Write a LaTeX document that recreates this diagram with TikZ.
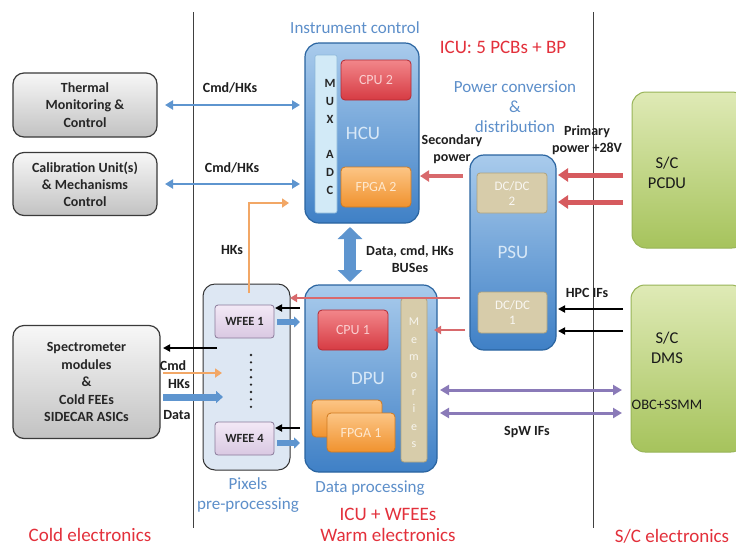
\documentclass[tikz,border=0pt]{standalone}
\usepackage{fontspec}
\setmainfont{Carlito}
\usetikzlibrary{arrows.meta,calc}
\definecolor{blueT}{HTML}{A9CBEC}
\definecolor{blueB}{HTML}{3F80C6}
\definecolor{blueD}{HTML}{2A64A0}
\definecolor{redT}{HTML}{F2868A}
\definecolor{redB}{HTML}{D63B43}
\definecolor{redD}{HTML}{B32A33}
\definecolor{orT}{HTML}{FCC585}
\definecolor{orB}{HTML}{F0922E}
\definecolor{orD}{HTML}{D07A20}
\definecolor{tanF}{HTML}{D7CCAA}
\definecolor{tanD}{HTML}{AFA27E}
\definecolor{muxF}{HTML}{D2EAF7}
\definecolor{muxD}{HTML}{8DB8DA}
\definecolor{pixF}{HTML}{DDE7F3}
\definecolor{wfT}{HTML}{F3E9F6}
\definecolor{wfB}{HTML}{D9C8E2}
\definecolor{wfD}{HTML}{8A7A9A}
\definecolor{grT}{HTML}{F7F7F7}
\definecolor{grB}{HTML}{C2C2C2}
\definecolor{grD}{HTML}{3A3A3A}
\definecolor{gnT}{HTML}{DFEAB6}
\definecolor{gnB}{HTML}{A6C35C}
\definecolor{gnD}{HTML}{98B458}
\definecolor{arBlue}{HTML}{5E95CF}
\definecolor{arRed}{HTML}{D8696C}
\definecolor{arRed2}{HTML}{D65A5E}
\definecolor{arOr}{HTML}{F2A766}
\definecolor{arPur}{HTML}{8A7AB8}
\definecolor{txBlue}{HTML}{5D8FCA}
\definecolor{txRed}{HTML}{E3303B}
\definecolor{inBlue}{HTML}{D8E8F7}
\definecolor{sepC}{HTML}{404040}
\begin{document}
\begin{tikzpicture}[x=1pt,y=-1pt,
  every node/.style={inner sep=0pt, outer sep=0pt},
  bluebox/.style={rounded corners=14pt, top color=blueT, bottom color=blueB, draw=blueD, line width=1.2pt, text=inBlue, font=\fontsize{19}{21}\selectfont},
  redbox/.style={rounded corners=4pt, top color=redT, bottom color=redB, draw=redD, line width=0.8pt, text=redT!40!white, font=\fontsize{14}{16}\selectfont},
  orbox/.style={rounded corners=4pt, top color=orT, bottom color=orB, draw=orD, line width=0.8pt, text=orT!40!white, font=\fontsize{14}{16}\selectfont},
  tanbox/.style={rounded corners=3pt, fill=tanF, draw=tanD, line width=0.8pt, text=white!85!tanF, font=\fontsize{13}{15}\selectfont, align=center},
  graybox/.style={rounded corners=11pt, top color=grT, bottom color=grB, draw=grD, line width=1.2pt, text=black!85, font=\bfseries\fontsize{14}{17.5}\selectfont, align=center},
  greenbox/.style={rounded corners=14pt, top color=gnT, bottom color=gnB, draw=gnD, line width=1pt},
  wfbox/.style={rounded corners=3pt, top color=wfT, bottom color=wfB, draw=wfD, line width=0.8pt, text=black!85, font=\bfseries\fontsize{12.5}{14}\selectfont},
  lbl/.style={text=black!88, font=\bfseries\fontsize{14}{16.5}\selectfont, align=center},
  ttlBlue/.style={text=txBlue, font=\fontsize{17}{20}\selectfont, align=center},
  ttlRed/.style={text=txRed, font=\fontsize{19}{21}\selectfont, align=center},
  sctext/.style={text=black!90, font=\fontsize{16.5}{20}\selectfont, align=center},
  thinblue/.style={draw=arBlue, line width=2.5pt, {Triangle[width=9pt,length=8pt]}-{Triangle[width=9pt,length=8pt]}},
  orarr/.style={draw=arOr, line width=2.5pt, -{Triangle[width=9pt,length=7pt]}},
  secarr/.style={draw=arRed, line width=3.5pt, -{Triangle[width=11pt,length=9pt]}},
  primarr/.style={draw=arRed2, line width=5pt, -{Triangle[width=13pt,length=10pt]}},
  thinred/.style={draw=arRed, line width=2pt, -{Triangle[width=8pt,length=7pt]}},
  blkarr/.style={draw=black, line width=1.8pt, -{Triangle[width=7pt,length=7pt]}},
  purarr/.style={draw=arPur, line width=3pt, {Triangle[width=10pt,length=9pt]}-{Triangle[width=10pt,length=9pt]}},
  fatblue/.style={draw=arBlue, line width=6pt, -{Triangle[width=11pt,length=6pt]}},
  fatbus/.style={draw=arBlue, line width=12pt, {Triangle[width=24pt,length=12pt]}-{Triangle[width=24pt,length=12pt]}},
  sep/.style={draw=sepC, line width=0.8pt}
]
\useasboundingbox (0,0) rectangle (736,547);
\fill[white] (0,0) rectangle (736,547);

% separators
\coordinate (s1t) at (193,12);
\coordinate (s1b) at (193,528);
\coordinate (s2t) at (593,12);
\coordinate (s2b) at (593,528);
\draw[sep] (s1t) -- (s1b);
\draw[sep] (s2t) -- (s2b);

% left boxes
\node[graybox, minimum width=144pt, minimum height=64pt] (thermal) at (85,105) {Thermal\\Monitoring \&\\Control};
\node[graybox, minimum width=144pt, minimum height=63pt, font=\bfseries\fontsize{14}{17}\selectfont] (calib) at (85,184) {Calibration Unit(s)\\\& Mechanisms\\Control};
\node[graybox, minimum width=147pt, minimum height=113pt] (spec) at (86.5,382) {Spectrometer\\modules\\\&\\Cold FEEs\\SIDECAR ASICs};

% HCU
\node[bluebox, minimum width=114pt, minimum height=180pt] (hcu) at (362,133) {\hspace*{2pt}HCU};
\node[rounded corners=2pt, fill=muxF, draw=muxD, line width=0.6pt, minimum width=22pt, minimum height=158pt] (mux) at (326,134) {};
\node[font=\bfseries\fontsize{12.5}{17.7}\selectfont, align=center, text=black!85] (muxt) at (330,137) {M\\U\\X\\[17.7pt]A\\D\\C};
\node[redbox, minimum width=70pt, minimum height=40pt] (cpu2) at (376,80) {CPU 2};
\node[orbox, minimum width=70pt, minimum height=40pt] (fpga2) at (376,187) {FPGA 2};

% PSU
\node[bluebox, minimum width=86pt, minimum height=195pt] (psu) at (513,252.5) {\raisebox{-3pt}{PSU}};
\node[tanbox, minimum width=70pt, minimum height=40pt] (dcdc2) at (512,193) {DC/DC\\2};
\node[tanbox, minimum width=69pt, minimum height=41pt] (dcdc1) at (512.5,312.5) {DC/DC\\1};

% Pixels box
\node[rounded corners=12pt, fill=pixF, draw=black!80, line width=1pt, minimum width=87pt, minimum height=186pt] (pix) at (246.5,377) {};
\node[wfbox, minimum width=59pt, minimum height=33pt] (wfee1) at (244.5,321.5) {WFEE 1};
\node[wfbox, minimum width=59pt, minimum height=33pt] (wfee4) at (244.5,438.5) {WFEE 4};
\foreach \i in {0,...,7} \fill[black!85] (251,{355+\i*7.4}) circle (1.3pt);

% DPU
\node[bluebox, minimum width=132pt, minimum height=187pt] (dpu) at (371,378.5) {\hspace*{-6pt}DPU};
\node[tanbox, minimum width=26pt, minimum height=164pt] (mem) at (414,380) {};
\node[font=\fontsize{12}{17.4}\selectfont, align=center, text=white!80!tanF] (memt) at (414,383) {M\\e\\m\\o\\r\\i\\e\\s};
\node[redbox, minimum width=70pt, minimum height=40pt] (cpu1) at (353,330) {CPU 1};
\node[orbox, minimum width=70pt, minimum height=37pt] (fpga1b) at (347,418.5) {};
\node[orbox, minimum width=68pt, minimum height=39pt] (fpga1) at (361,432.5) {FPGA 1};

% S/C boxes
\node[greenbox, minimum width=114pt, minimum height=156pt] (pcdu) at (689,170) {};
\node[sctext] (pcdut) at (667,173) {S/C\\PCDU};
\node[greenbox, minimum width=114pt, minimum height=167pt] (dms) at (688,368.5) {};
\node[sctext] (dmst) at (667,348) {S/C\\DMS};
\node[text=black!90, font=\fontsize{14.5}{17}\selectfont] (obc) at (667,405) {OBC+SSMM};

% helper coordinates
\coordinate (hkx) at (249,0);
\coordinate (hky) at (0,203);
\coordinate (busx) at (350,0);
\coordinate (ysec) at (0,176);
\coordinate (yp1) at (0,175);
\coordinate (yp2) at (0,202);
\coordinate (yh1) at (0,309);
\coordinate (yh2) at (0,331);
\coordinate (yr1) at (0,298);
\coordinate (yr2) at (0,330);
\coordinate (ys1) at (0,390);
\coordinate (ys2) at (0,413);
\coordinate (yb1) at (0,308);
\coordinate (yb2) at (0,428);
\coordinate (yw1) at (0,322);
\coordinate (yw2) at (0,443);
\coordinate (ycmd) at (0,348);
\coordinate (yhk) at (0,373);
\coordinate (ydat) at (0,397);

% connectors
\draw[thinblue, shorten <=8pt, shorten >=5pt] (thermal.east) -- (thermal.east -| hcu.west);
\draw[thinblue, shorten <=8pt, shorten >=5pt] (calib.east) -- (calib.east -| hcu.west);
\draw[orarr, shorten <=-9pt, shorten >=16pt] (pix.north -| hkx) |- (hky -| hcu.west);
\draw[fatbus, shorten <=4pt, shorten >=3pt] (hcu.south -| busx) -- (dpu.north -| busx);
\draw[secarr, shorten <=7pt, shorten >=9pt] (psu.west |- ysec) -- (fpga2.east |- ysec);
\draw[primarr, shorten <=9pt, shorten >=2pt] (pcdu.west |- yp1) -- (psu.east |- yp1);
\draw[primarr, shorten <=9pt, shorten >=2pt] (pcdu.west |- yp2) -- (psu.east |- yp2);
\draw[blkarr, shorten <=8pt, shorten >=2pt] (dms.west |- yh1) -- (psu.east |- yh1);
\draw[blkarr, shorten <=8pt, shorten >=2pt] (dms.west |- yh2) -- (psu.east |- yh2);
\draw[thinred, shorten <=10pt, shorten >=0pt] (psu.west |- yr1) -- (pix.east |- yr1);
\draw[thinred, shorten <=5pt, shorten >=-3pt] (psu.west |- yr2) -- (dpu.east |- yr2);
\draw[purarr, shorten <=3pt, shorten >=9pt] (dpu.east |- ys1) -- (dms.west |- ys1);
\draw[purarr, shorten <=3pt, shorten >=9pt] (dpu.east |- ys2) -- (dms.west |- ys2);
\draw[blkarr, shorten <=5pt, shorten >=1pt] (dpu.west |- yb1) -- (wfee1.east |- yb1);
\draw[blkarr, shorten <=5pt, shorten >=1pt] (dpu.west |- yb2) -- (wfee4.east |- yb2);
\draw[fatblue, shorten <=3pt, shorten >=5pt] (wfee1.east |- yw1) -- (dpu.west |- yw1);
\draw[fatblue, shorten <=3pt, shorten >=5pt] (wfee4.east |- yw2) -- (dpu.west |- yw2);
\draw[blkarr, shorten <=-14pt, shorten >=3pt] (pix.west |- ycmd) -- (spec.east |- ycmd);
\draw[orarr, shorten <=3pt, shorten >=-19pt] (spec.east |- yhk) -- (pix.west |- yhk);
\draw[fatblue, line width=7pt, -{Triangle[width=12pt,length=7pt]}, shorten <=3pt, shorten >=-20pt] (spec.east |- ydat) -- (pix.west |- ydat);

% connector labels
\node[lbl] (l1) at (230,88) {Cmd/HKs};
\node[lbl] (l2) at (232,168) {Cmd/HKs};
\node[lbl] (l3) at (232,250) {HKs};
\node[lbl] (l4) at (410,259) {Data, cmd, HKs\\BUSes};
\node[lbl] (l5) at (452,149) {Secondary\\power};
\node[lbl] (l6) at (587,140) {Primary\\power +28V};
\node[lbl] (l7) at (587,293) {HPC IFs};
\node[lbl] (l8) at (527,432) {SpW IFs};
\node[lbl] (l9) at (173,366) {Cmd};
\node[lbl] (l10) at (179,384) {HKs};
\node[lbl] (l11) at (177,415) {Data};

% titles
\node[ttlBlue] (t1) at (355,28) {Instrument control};
\node[ttlBlue] (t2) at (515,107) {Power conversion\\\&\\distribution};
\node[ttlBlue] (t3) at (248,495) {Pixels\\pre-processing};
\node[ttlBlue] (t4) at (370,488) {Data processing};
\node[ttlRed] (r1) at (503,47) {ICU: 5 PCBs + BP};
\node[ttlRed] (r2) at (388,525) {ICU + WFEEs\\Warm electronics};
\node[ttlRed] (r3) at (90,535) {Cold electronics};
\node[ttlRed] (r4) at (672,536) {S/C electronics};
\end{tikzpicture}
\end{document}
